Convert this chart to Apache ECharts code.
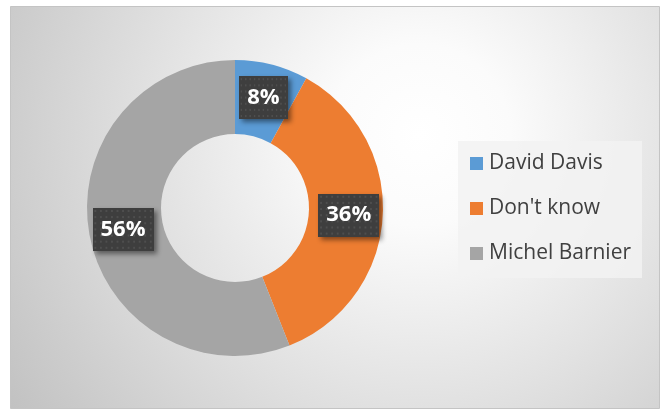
<!DOCTYPE html>
<html>
<head>
<meta charset="utf-8">
<script src="https://cdn.jsdelivr.net/npm/echarts@6/dist/echarts.min.js"></script>
<style>
  html, body { margin: 0; padding: 0; background: #fff; }
  #chart { width: 667px; height: 410px; }
</style>
</head>
<body>
<div id="chart"></div>
<script>
const names = ['David Davis', "Don't know", 'Michel Barnier']
const values = [8, 36, 56]
const colors = ['#5b9bd5', '#ed7d31', '#a5a5a5']

// dotted dark texture for the data label boxes
const makeDots = (w, h) => {
  const c = document.createElement('canvas')
  c.width = w
  c.height = h
  const g = c.getContext('2d')
  g.fillStyle = '#3e3e3e'
  g.fillRect(0, 0, w, h)
  g.fillStyle = '#4e4e4e'
  for (let y = 2; y < h; y += 6) {
    for (let x = 2; x < w; x += 6) {
      g.fillRect(x, y, 2, 2)
    }
  }
  return c
}

const chart = echarts.init(document.getElementById('chart'))

const options = {
  animation: false,
  graphic: [
    {
      type: 'rect',
      z: -10,
      silent: true,
      shape: { x: 10.5, y: 6.5, width: 649, height: 402 },
      style: {
        fill: {
          type: 'radial',
          x: 0.63,
          y: 0.32,
          r: 1.25,
          colorStops: [
            { offset: 0, color: '#ffffff' },
            { offset: 0.18, color: '#fbfbfb' },
            { offset: 1, color: '#c0c0c0' }
          ]
        },
        stroke: '#c4c4c4',
        lineWidth: 1
      }
    }
  ],
  legend: {
    orient: 'vertical',
    left: 458,
    top: 141,
    padding: [11, 11, 13, 12],
    backgroundColor: 'rgba(242,242,242,0.85)',
    icon: 'rect',
    itemWidth: 13,
    itemHeight: 13,
    itemGap: 22,
    data: names,
    textStyle: {
      fontFamily: 'Open Sans',
      fontSize: 21,
      lineHeight: 23,
      color: '#404040',
      padding: [0, 0, 0, 1]
    }
  },
  series: [
    {
      type: 'pie',
      center: [235, 208],
      radius: [74, 148],
      startAngle: 90,
      clockwise: true,
      silent: true,
      itemStyle: { borderWidth: 0 },
      label: {
        show: true,
        position: 'inside',
        formatter: '{c}%',
        fontFamily: 'Open Sans',
        fontWeight: 'bold',
        fontSize: 22,
        color: '#ffffff',
        backgroundColor: { image: makeDots(66, 42) },
        padding: [12, 8, 9, 8],
        shadowColor: 'rgba(0,0,0,0.45)',
        shadowBlur: 5,
        shadowOffsetX: 3,
        shadowOffsetY: 3
      },
      labelLine: { show: false },
      data: names.map((n, i) => ({
        name: n,
        value: values[i],
        itemStyle: { color: colors[i] }
      }))
    }
  ]
}

chart.setOption(options)
</script>
</body>
</html>
